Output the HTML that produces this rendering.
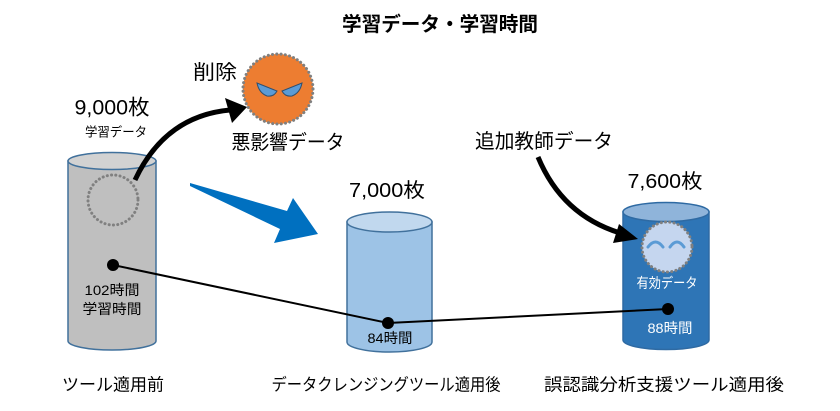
<!DOCTYPE html>
<html>
<head>
<meta charset="utf-8">
<style>
html,body{margin:0;padding:0;background:#fff;}
svg{display:block;}
text{font-family:"Liberation Sans","Noto Sans CJK JP",sans-serif;fill:#000;}
</style>
</head>
<body>
<svg width="840" height="411" viewBox="0 0 840 411" xmlns="http://www.w3.org/2000/svg">
  <rect width="840" height="411" fill="#fff"/>

  <!-- Title -->
  <text x="440" y="25" font-size="20" font-weight="bold" text-anchor="middle" dominant-baseline="central" textLength="196" lengthAdjust="spacingAndGlyphs">学習データ・学習時間</text>

  <!-- Gray cylinder -->
  <path d="M68,161 L68,341 A44,9 0 0 0 156,341 L156,161 Z" fill="#bfbfbf" stroke="#41719c" stroke-width="1.5"/>
  <ellipse cx="112" cy="161" rx="44" ry="8.5" fill="#d2d2d2" stroke="#41719c" stroke-width="1.5"/>
  <circle cx="113" cy="200" r="25" fill="none" stroke="#808080" stroke-width="3" stroke-dasharray="0.1 4.2" stroke-linecap="round"/>

  <!-- Light blue cylinder -->
  <path d="M347,222 L347,342 A42.5,10 0 0 0 432,342 L432,222 Z" fill="#9dc3e6" stroke="#41719c" stroke-width="1.5"/>
  <ellipse cx="389.5" cy="222" rx="42.5" ry="10" fill="#c1d8ee" stroke="#41719c" stroke-width="1.5"/>

  <!-- Dark blue cylinder -->
  <path d="M623,212 L623,340 A43,9.5 0 0 0 709,340 L709,212 Z" fill="#2e75b6" stroke="#2e6aa3" stroke-width="1.5"/>
  <ellipse cx="666" cy="212" rx="43" ry="9.5" fill="#8fb4da" stroke="#2e6aa3" stroke-width="1.5"/>
  <circle cx="667" cy="247" r="25" fill="#c5d6ef" stroke="#808080" stroke-width="3" stroke-dasharray="0.1 4.2" stroke-linecap="round"/>
  <path d="M648,247 Q655.5,237 663,247" fill="none" stroke="#5b9bd5" stroke-width="3" stroke-linecap="round"/>
  <path d="M670,247 Q677,237 684,247" fill="none" stroke="#5b9bd5" stroke-width="3" stroke-linecap="round"/>

  <!-- Orange circle -->
  <circle cx="278" cy="89" r="35" fill="#ed7d31" stroke="#808080" stroke-width="3" stroke-dasharray="0.1 4.2" stroke-linecap="round"/>
  <path d="M257,83 L277,91 Q274,97 267,96 Q259,93 257,83 Z" fill="#5b9bd5" stroke="#2f4f6f" stroke-width="1"/>
  <path d="M302,83 L282,91 Q285,97 292,96 Q300,93 302,83 Z" fill="#5b9bd5" stroke="#2f4f6f" stroke-width="1"/>

  <!-- Blue big arrow -->
  <polygon points="190,183 287,211 293,198 318,234 274,243 280,229 190,186" fill="#0070c0"/>

  <!-- Black curved arrow 1 -->
  <path d="M135,180 Q165,116 230,110" fill="none" stroke="#000" stroke-width="5"/>
  <polygon points="247,107 225,98 232,123" fill="#000"/>

  <!-- Black curved arrow 2 -->
  <path d="M538,157 Q562,215 620,233" fill="none" stroke="#000" stroke-width="5"/>
  <polygon points="638,239 619,224 613,243" fill="#000"/>

  <!-- Time line -->
  <polyline points="113,265 388,323 668,309" fill="none" stroke="#000" stroke-width="2"/>
  <circle cx="113" cy="265" r="6" fill="#000"/>
  <circle cx="388" cy="323" r="6" fill="#000"/>
  <circle cx="668" cy="309" r="6" fill="#000"/>

  <!-- Labels -->
  <text x="215" y="73" font-size="20" text-anchor="middle" dominant-baseline="central" textLength="44" lengthAdjust="spacingAndGlyphs">削除</text>
  <text x="112" y="108" font-size="21" text-anchor="middle" dominant-baseline="central" textLength="75" lengthAdjust="spacingAndGlyphs">9,000枚</text>
  <text x="116" y="132" font-size="13" text-anchor="middle" dominant-baseline="central" textLength="62" lengthAdjust="spacingAndGlyphs">学習データ</text>
  <text x="288" y="143" font-size="20" text-anchor="middle" dominant-baseline="central" textLength="113" lengthAdjust="spacingAndGlyphs">悪影響データ</text>
  <text x="387" y="191" font-size="20" text-anchor="middle" dominant-baseline="central" textLength="76" lengthAdjust="spacingAndGlyphs">7,000枚</text>
  <text x="544" y="142" font-size="20" text-anchor="middle" dominant-baseline="central" textLength="138" lengthAdjust="spacingAndGlyphs">追加教師データ</text>
  <text x="665" y="182" font-size="20" text-anchor="middle" dominant-baseline="central" textLength="75" lengthAdjust="spacingAndGlyphs">7,600枚</text>

  <text x="112" y="290" font-size="14" text-anchor="middle" dominant-baseline="central" textLength="55" lengthAdjust="spacingAndGlyphs">102時間</text>
  <text x="112" y="309" font-size="14" text-anchor="middle" dominant-baseline="central" textLength="59" lengthAdjust="spacingAndGlyphs">学習時間</text>
  <text x="390" y="338" font-size="14" text-anchor="middle" dominant-baseline="central" textLength="45" lengthAdjust="spacingAndGlyphs">84時間</text>
  <text x="667" y="283" font-size="14" text-anchor="middle" dominant-baseline="central" textLength="61" lengthAdjust="spacingAndGlyphs" style="fill:#fff">有効データ</text>
  <text x="670" y="328" font-size="14" text-anchor="middle" dominant-baseline="central" textLength="45" lengthAdjust="spacingAndGlyphs" style="fill:#fff">88時間</text>

  <text x="113" y="385" font-size="17" text-anchor="middle" dominant-baseline="central" textLength="102" lengthAdjust="spacingAndGlyphs">ツール適用前</text>
  <text x="386" y="385" font-size="17" text-anchor="middle" dominant-baseline="central" textLength="229" lengthAdjust="spacingAndGlyphs">データクレンジングツール適用後</text>
  <text x="664" y="385" font-size="17" text-anchor="middle" dominant-baseline="central" textLength="240" lengthAdjust="spacingAndGlyphs">誤認識分析支援ツール適用後</text>
</svg>
</body>
</html>
